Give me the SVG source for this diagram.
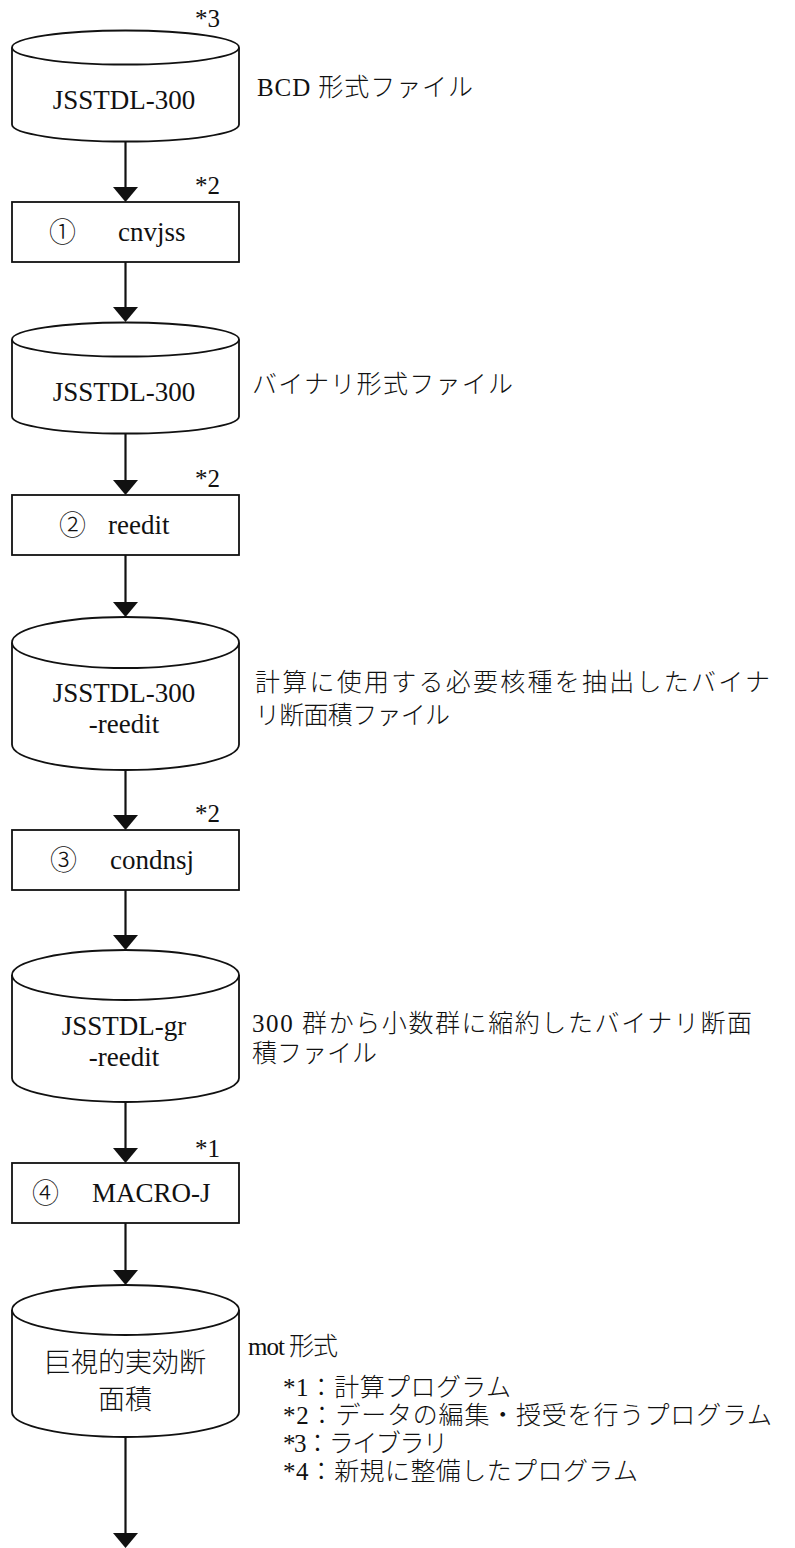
<svg xmlns="http://www.w3.org/2000/svg" width="795" height="1548" viewBox="0 0 795 1548">
  <style>
    text { font-family: "Liberation Serif", "Noto Sans CJK JP", serif; fill: #111; }
    .node { font-size: 27px; }
    .mid { text-anchor: middle; }
    .circ { font-size: 27px; font-weight: 300; }
    .note { font-size: 25px; font-weight: 300; }
    .star { font-size: 25px; }
    .legend { font-size: 25px; font-weight: 300; }
    .light { font-weight: 300; }
    .shape { fill: #fff; stroke: #111; stroke-width: 1.8; }
    .flow { fill: none; stroke: #111; stroke-width: 2.2; }
  </style>
  <defs>
    <marker id="arrow" markerUnits="userSpaceOnUse" markerWidth="15" markerHeight="25" refX="11" refY="12.5" orient="auto" viewBox="0 0 15 25">
      <path d="M0,0 L15,12.5 L0,25 Z" fill="#111"/>
    </marker>
  </defs>

  <!-- connectors -->
  <g id="connectors">
    <line class="flow" x1="125.5" y1="142" x2="125.5" y2="198" marker-end="url(#arrow)"/>
    <line class="flow" x1="125.5" y1="262" x2="125.5" y2="318" marker-end="url(#arrow)"/>
    <line class="flow" x1="125.5" y1="434" x2="125.5" y2="491" marker-end="url(#arrow)"/>
    <line class="flow" x1="125.5" y1="555" x2="125.5" y2="613" marker-end="url(#arrow)"/>
    <line class="flow" x1="125.5" y1="770" x2="125.5" y2="826" marker-end="url(#arrow)"/>
    <line class="flow" x1="125.5" y1="890" x2="125.5" y2="946" marker-end="url(#arrow)"/>
    <line class="flow" x1="125.5" y1="1102" x2="125.5" y2="1159" marker-end="url(#arrow)"/>
    <line class="flow" x1="125.5" y1="1223" x2="125.5" y2="1281" marker-end="url(#arrow)"/>
    <line class="flow" x1="125.5" y1="1437" x2="125.5" y2="1544" marker-end="url(#arrow)"/>
  </g>

  <!-- library file: BCD -->
  <g id="lib-bcd">
    <path class="shape" d="M12,47.5 V124.5 A113.5,17 0 0 0 239,124.5 V47.5"/>
    <ellipse class="shape" cx="125.5" cy="47.5" rx="113.5" ry="17"/>
    <text class="node mid" x="124" y="109">JSSTDL-300</text>
    <text class="star" x="195" y="27">*3</text>
    <text class="note" x="257" y="96" textLength="216">BCD 形式ファイル</text>
  </g>

  <!-- step 1 -->
  <g id="step-cnvjss">
    <rect class="shape" x="12" y="202" width="227" height="60"/>
    <text class="circ" x="49" y="242">①</text>
    <text class="node" x="118" y="241">cnvjss</text>
    <text class="star" x="195" y="194">*2</text>
  </g>

  <!-- binary file -->
  <g id="lib-binary">
    <path class="shape" d="M12,339.5 V416.5 A113.5,17 0 0 0 239,416.5 V339.5"/>
    <ellipse class="shape" cx="125.5" cy="339.5" rx="113.5" ry="17"/>
    <text class="node mid" x="124" y="401">JSSTDL-300</text>
    <text class="note" x="252" y="393" textLength="261">バイナリ形式ファイル</text>
  </g>

  <!-- step 2 -->
  <g id="step-reedit">
    <rect class="shape" x="12" y="495" width="227" height="60"/>
    <text class="circ" x="59" y="535">②</text>
    <text class="node" x="108" y="534">reedit</text>
    <text class="star" x="195" y="487">*2</text>
  </g>

  <!-- extracted nuclides file -->
  <g id="lib-reedit">
    <path class="shape" d="M12,642.5 V744.5 A113.5,25.5 0 0 0 239,744.5 V642.5"/>
    <ellipse class="shape" cx="125.5" cy="642.5" rx="113.5" ry="25.5"/>
    <text class="node mid" x="124" y="702">JSSTDL-300</text>
    <text class="node mid" x="124" y="733">-reedit</text>
    <text class="note" x="255" y="691" textLength="515">計算に使用する必要核種を抽出したバイナ</text>
    <text class="note" x="255" y="724" textLength="195">リ断面積ファイル</text>
  </g>

  <!-- step 3 -->
  <g id="step-condnsj">
    <rect class="shape" x="12" y="830" width="227" height="60"/>
    <text class="circ" x="50" y="870">③</text>
    <text class="node" x="110" y="869">condnsj</text>
    <text class="star" x="195" y="822">*2</text>
  </g>

  <!-- condensed group file -->
  <g id="lib-gr">
    <path class="shape" d="M12,975 V1078 A113.5,24 0 0 0 239,1078 V975"/>
    <ellipse class="shape" cx="125.5" cy="975" rx="113.5" ry="25"/>
    <text class="node mid" x="124" y="1035">JSSTDL-gr</text>
    <text class="node mid" x="124" y="1066">-reedit</text>
    <text class="note" x="252" y="1032" textLength="500">300 群から小数群に縮約したバイナリ断面</text>
    <text class="note" x="252" y="1062" textLength="125">積ファイル</text>
  </g>

  <!-- step 4 -->
  <g id="step-macro">
    <rect class="shape" x="12" y="1163" width="227" height="60"/>
    <text class="circ" x="32" y="1203">④</text>
    <text class="node" x="92" y="1202">MACRO-J</text>
    <text class="star" x="195" y="1157">*1</text>
  </g>

  <!-- macroscopic cross section -->
  <g id="lib-macro">
    <path class="shape" d="M12,1310 V1412 A113.5,25 0 0 0 239,1412 V1310"/>
    <ellipse class="shape" cx="125.5" cy="1310" rx="113.5" ry="25"/>
    <text class="node mid light" x="125" y="1372">巨視的実効断</text>
    <text class="node mid light" x="125" y="1409">面積</text>
    <text class="note" x="248" y="1355" textLength="90">mot 形式</text>
  </g>

  <!-- legend -->
  <g id="legend">
    <text class="legend" x="283" y="1396" textLength="228">*1：計算プログラム</text>
    <text class="legend" x="283" y="1424" textLength="489">*2：データの編集・授受を行うプログラム</text>
    <text class="legend" x="283" y="1452" textLength="165">*3：ライブラリ</text>
    <text class="legend" x="283" y="1480" textLength="355">*4：新規に整備したプログラム</text>
  </g>
</svg>
